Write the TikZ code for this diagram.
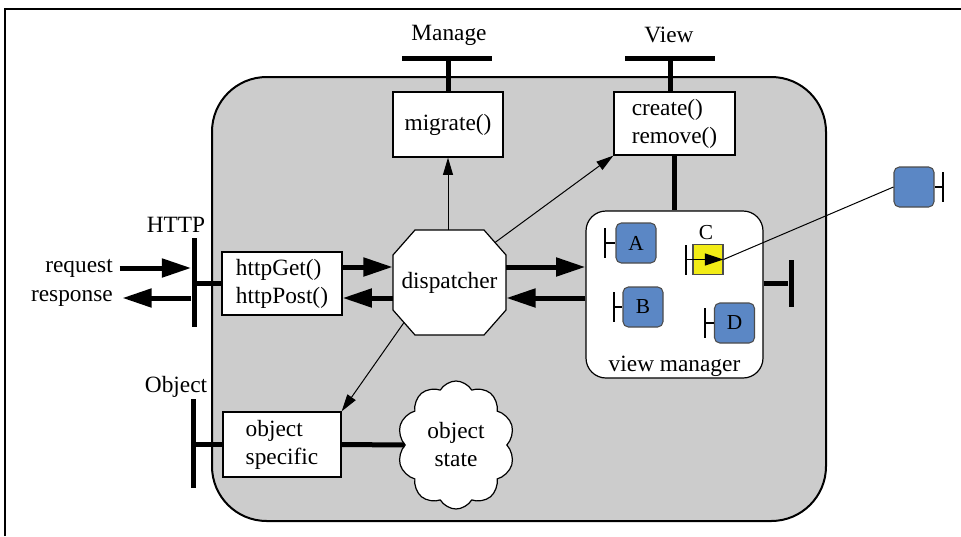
\documentclass[tikz,border=0pt]{standalone}
\usepackage{fontspec}
\setmainfont{Liberation Serif}
\usetikzlibrary{arrows.meta,shapes.symbols,calc}
\definecolor{panel}{RGB}{204,204,204}
\definecolor{bluebox}{RGB}{91,135,197}
\definecolor{yellowbox}{RGB}{242,236,22}
\begin{document}
\begin{tikzpicture}[x=0.75pt,y=-0.75pt,
  every node/.style={font=\fontsize{17.5}{21}\selectfont},
  box/.style={draw,fill=white,line width=0.9pt,inner sep=0pt,align=left},
  bar/.style={fill=black,inner sep=0pt,draw=none},
  thickline/.style={line width=3.75pt},
  bigarrow/.style={line width=3.75pt,-{Triangle[length=22pt,width=13.5pt]}},
  thinarrow/.style={line width=0.75pt,-{Triangle[length=13pt,width=7.5pt]}},
  comp/.style={draw=black!70,fill=bluebox,rounded corners=4pt,minimum size=30pt,inner sep=0pt,line width=0.8pt,font=\fontsize{16}{18}\selectfont},
  handle/.style={fill=black,inner sep=0pt,minimum width=1.9pt,minimum height=22.5pt},
  handleline/.style={line width=1.5pt},
  lbl/.style={inner sep=0pt}
]
\useasboundingbox (0,0) rectangle (961,536);
\draw[line width=0.9pt] (5,536) -- (5,9) -- (961,9);
\draw[fill=panel,line width=1.5pt,rounded corners=41pt] (212,77) rectangle (826,521);
% dispatcher octagon
\draw[fill=white,line width=0.9pt] (415,230) -- (484,230) -- (506,255) -- (506,310) -- (484,335) -- (415,335) -- (393,310) -- (393,255) -- cycle;
\node[inner sep=0pt,minimum width=84.75pt,minimum height=78.75pt] (disp) at (449.5,282.5) {dispatcher};
% boxes
\node[box,minimum width=90pt,minimum height=47.25pt] (hb) at (282,283.5) {httpGet()\\httpPost()};
\node[box,minimum width=82.5pt,minimum height=48.75pt] (mig) at (448,124.5) {migrate()};
\node[box,minimum width=90.75pt,minimum height=47.25pt] (cr) at (674.5,123.5) {create()\\remove()};
\node[box,minimum width=88.5pt,minimum height=48.75pt] (os) at (282,444.5) {object\\specific};
\node[draw,fill=white,line width=0.9pt,rounded corners=15pt,minimum width=132.75pt,minimum height=125.25pt] (vm) at (674.5,294.5) {};
\node[lbl,anchor=base] (vml) at (674.5,371) {view manager};
\node[cloud,draw,fill=white,line width=0.9pt,cloud puffs=10,cloud puff arc=120,aspect=0.9,minimum width=88pt,minimum height=96pt,inner sep=0pt,align=center] (state) at (456,445) {object\\state};
% labels
\node[lbl] (manage) at (449,35) {Manage};
\node[lbl] (view) at (669,35) {View};
\node[lbl] (http) at (176,225) {HTTP};
\node[lbl] (obj) at (176,387) {Object};
\node[lbl,anchor=east] (req) at (113,268) {request};
\node[lbl,anchor=east] (resp) at (113,298) {response};
% bars
\node[bar,minimum width=67.5pt,minimum height=3.75pt] (mbar) at (447,58) {};
\node[bar,minimum width=67.5pt,minimum height=3.75pt] (vbar) at (670,58) {};
\node[bar,minimum width=3.75pt,minimum height=66.75pt] (hbar) at (194,282.5) {};
\node[bar,minimum width=3.75pt,minimum height=66.75pt] (obar) at (193,443.5) {};
\node[bar,minimum width=3.75pt,minimum height=35.25pt] (rbar) at (791,283.5) {};
% thick connectors
\draw[thickline] (mig.north |- mbar.south) -- (mig.north);
\draw[thickline] (vbar.south) -- (vbar.south |- cr.north);
\draw[thickline] (vm.north |- cr.south) -- (vm.north);
\draw[thickline] (hbar.east |- hb.west) -- (hb.west);
\draw[thickline] (obar.east |- os.west) -- (os.west);
\draw[thickline] (os.east) -- (state.west);
\draw[thickline] (vm.east |- rbar.west) -- (rbar.west);
% big arrows
\draw[bigarrow] ([xshift=5pt]req.east) -- (hbar.west |- req.east);
\draw[bigarrow] (hbar.west |- resp.east) -- ([xshift=7pt]resp.east);
\draw[bigarrow] (hb.east |- 0,267) -- (disp.west |- 0,267);
\draw[bigarrow] (disp.west |- 0,298) -- (hb.east |- 0,298);
\draw[bigarrow] (disp.east |- 0,267) -- (vm.west |- 0,267);
\draw[bigarrow] (vm.west |- 0,298) -- (disp.east |- 0,298);
% thin arrows
\coordinate (dne) at (495,242.5);
\coordinate (dsw) at (404,322.5);
\draw[thinarrow] (mig.south |- disp.north) -- (mig.south);
\draw[thinarrow] (dne) -- (cr.south west);
\draw[thinarrow] (dsw) -- (os.north east);
% components
\node[comp] (A) at (636,243) {A};
\node[comp] (B) at (643,307) {B};
\node[comp] (D) at (734.5,323) {D};
\node[comp,fill=yellowbox,rounded corners=0pt,minimum size=22.5pt] (C) at (708,259.5) {};
\node[lbl,font=\fontsize{16}{18}\selectfont] (clab) at (706,233) {C};
\node[comp] (far) at (914,187) {};
\node[handle] (hA) at (605,243) {};
\node[handle] (hB) at (614,307) {};
\node[handle] (hC) at (686,259.5) {};
\node[handle] (hD) at (705,323) {};
\node[handle] (hF) at (943,187) {};
\draw[handleline] (hA.center) -- (A.west);
\draw[handleline] (hB.center) -- (B.west);
\draw[handleline] (hD.center) -- (D.west);
\draw[handleline] (far.east) -- (hF.center);
\draw[line width=1pt,-{Triangle[length=14pt,width=9pt]}] (hC.center) -- (C.east);
\draw[line width=0.75pt] (far.west) -- (C.east);
\end{tikzpicture}
\end{document}
